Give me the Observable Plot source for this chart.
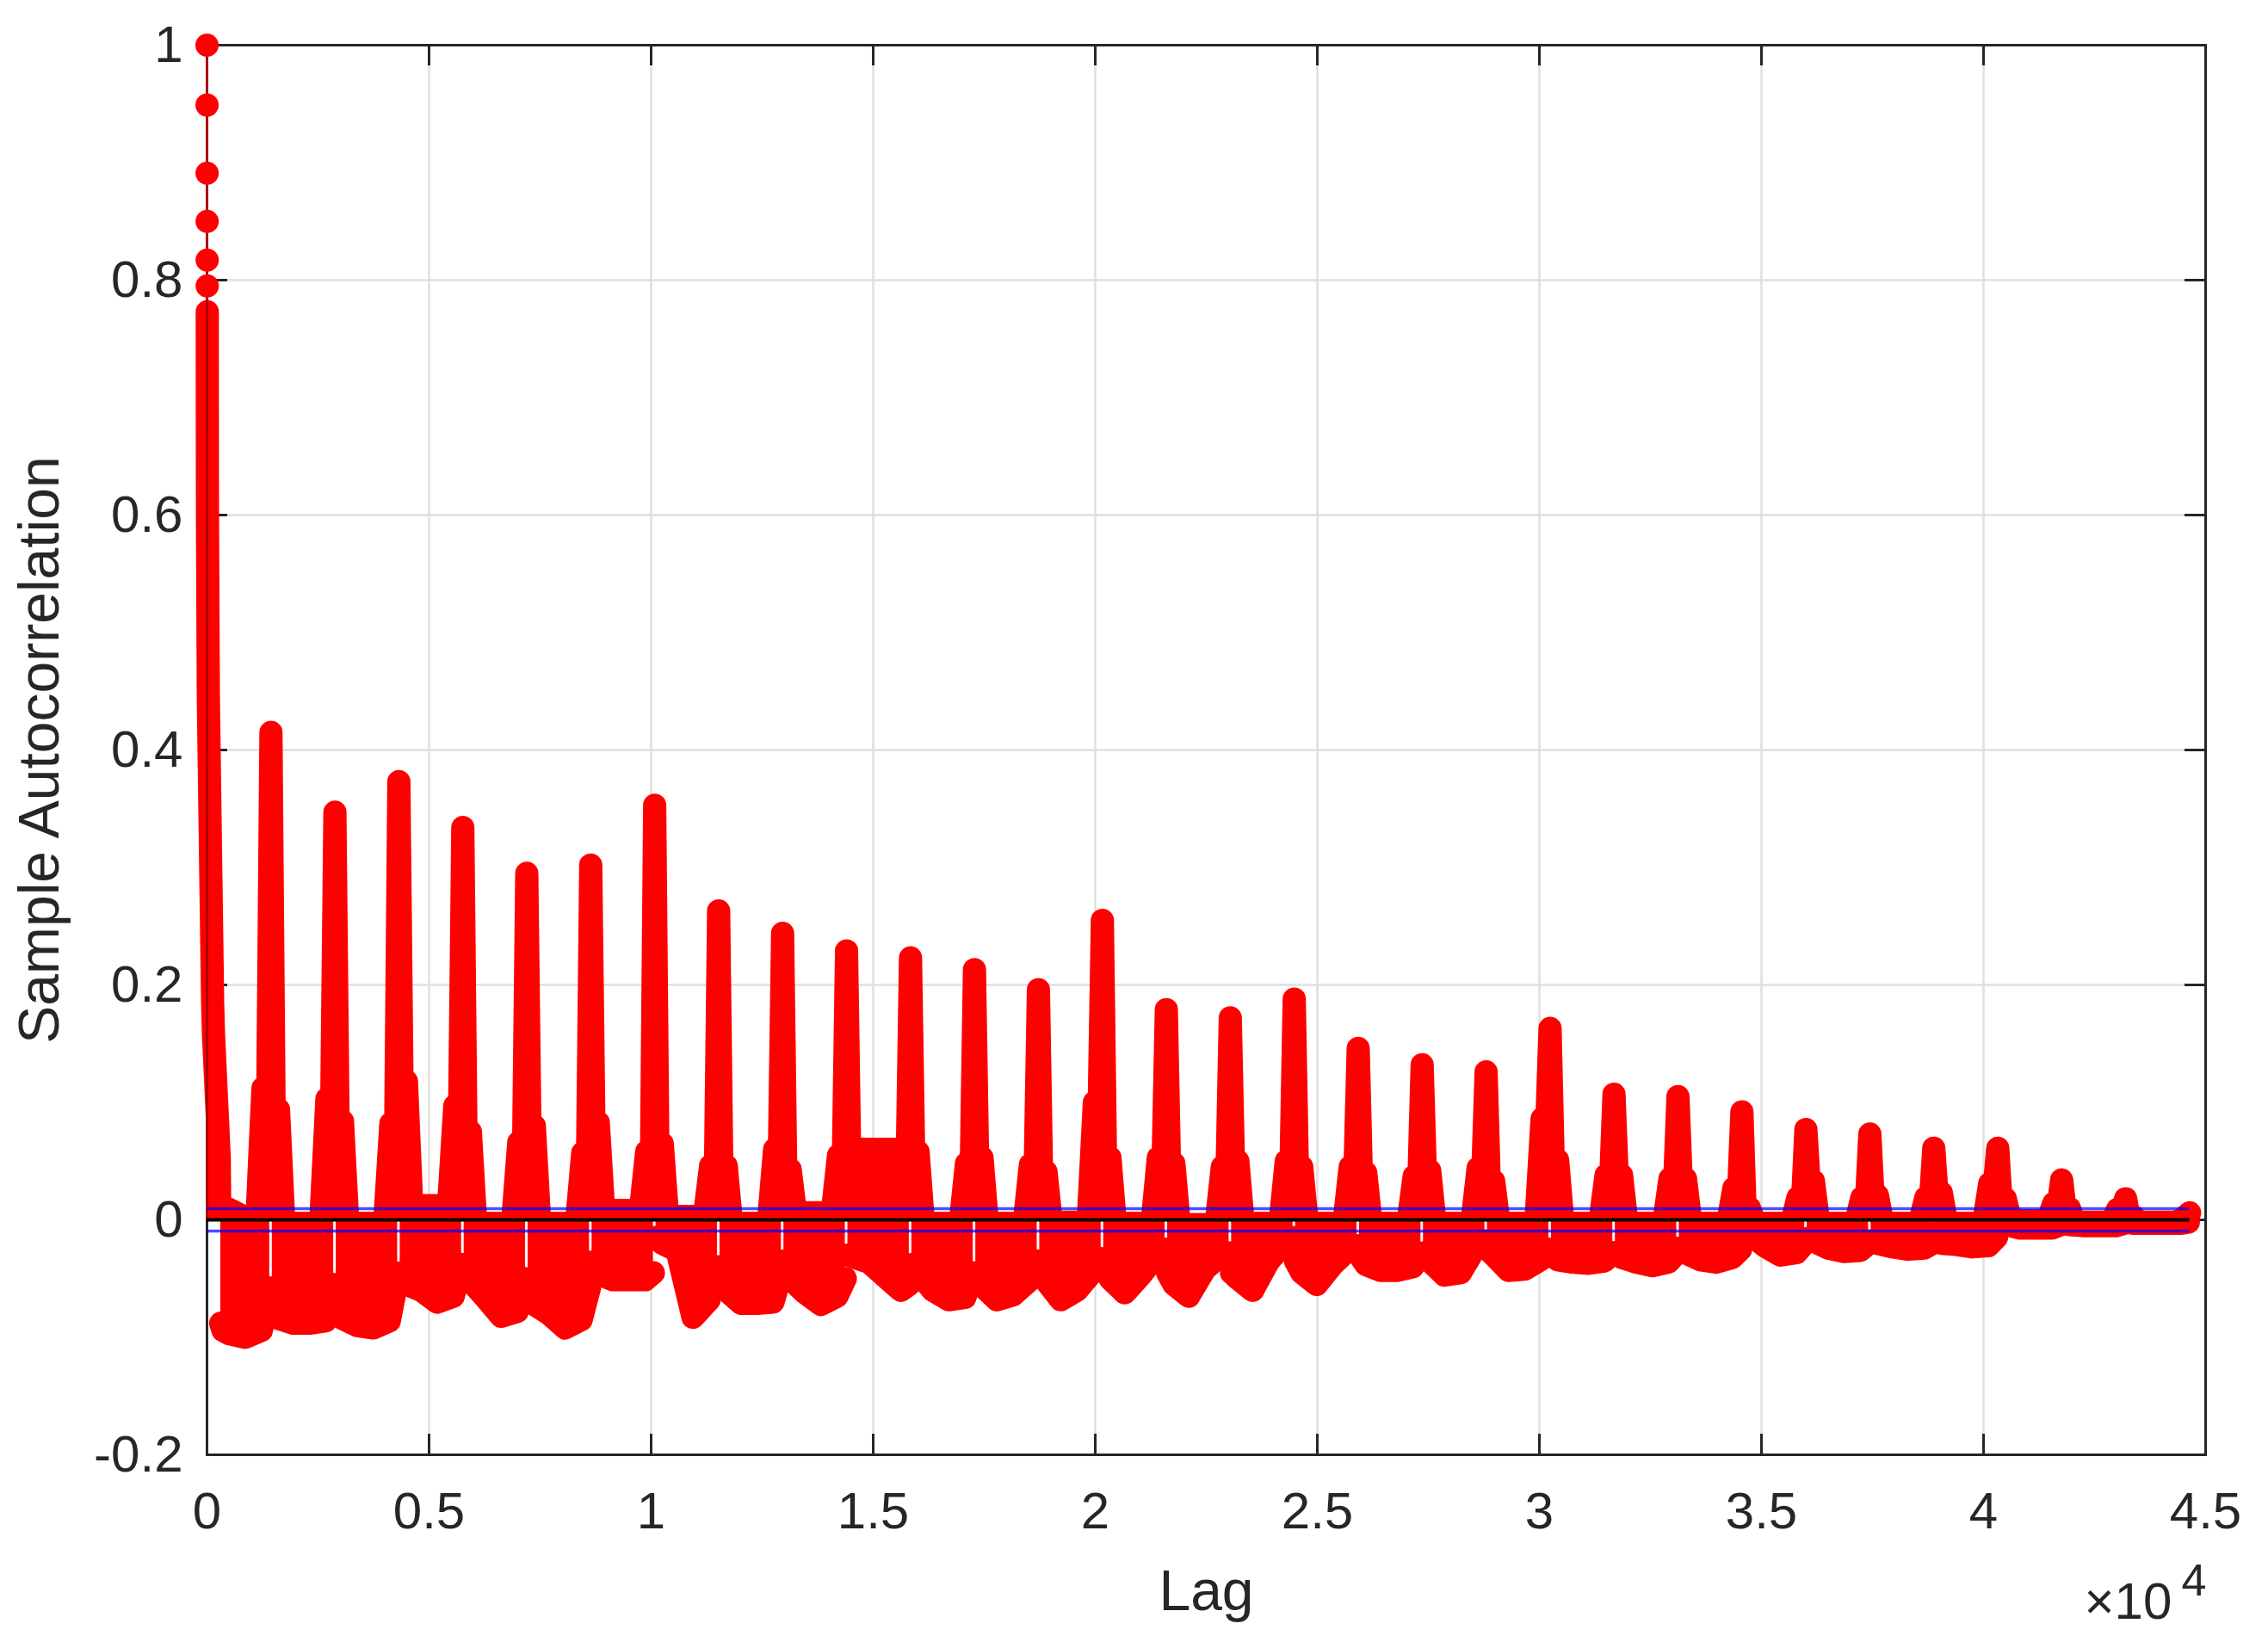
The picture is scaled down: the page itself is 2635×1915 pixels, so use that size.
<!DOCTYPE html>
<html>
<head>
<meta charset="utf-8">
<script src="https://cdn.jsdelivr.net/npm/d3@7"></script>
<script src="https://cdn.jsdelivr.net/npm/@observablehq/plot@0.6"></script>
<style>
  html, body { margin: 0; padding: 0; background: #ffffff; }
  svg { display: block; }
</style>
</head>
<body>
<div id="chart"></div>
<script>
// ---------------- data ----------------
const period = 1440;          // lag spacing of the daily peaks
const maxLag = 44640;         // last lag
const bound = 0.0095;         // confidence bounds (±)

const xTicks = [0, 5000, 10000, 15000, 20000, 25000, 30000, 35000, 40000, 45000];
const yTicks = [-0.2, 0, 0.2, 0.4, 0.6, 0.8, 1];

// first lags, drawn as individual markers
const firstVals = [1.0, 0.949, 0.891, 0.850, 0.817, 0.795];

// decay of the lag-0 peak (upper envelope)
const decayLag = [6, 10, 30, 126, 145, 275, 285];
const decayVal = [0.773, 0.60, 0.445, 0.186, 0.159, 0.053, 0.013];

// per daily peak k = 1..31 (lag k*1440)
const peakVal = [0.415, 0.347, 0.373, 0.334, 0.295, 0.302, 0.353, 0.263, 0.244, 0.229,
                 0.223, 0.213, 0.196, 0.255, 0.179, 0.172, 0.188, 0.146, 0.132, 0.126,
                 0.163, 0.107, 0.105, 0.092, 0.077, 0.073, 0.061, 0.061, 0.034, 0.018, 0.006];
const shoulderL = [0.112, 0.103, 0.082, 0.097, 0.066, 0.057, 0.058, 0.046, 0.060, 0.055,
                   0.058, 0.048, 0.047, 0.100, 0.053, 0.045, 0.050, 0.045, 0.037, 0.044,
                   0.086, 0.038, 0.035, 0.027, 0.019, 0.019, 0.019, 0.031, 0.014, 0.009, 0.000];
const shoulderR = [0.094, 0.084, 0.118, 0.075, 0.080, 0.083, 0.065, 0.046, 0.043, 0.055,
                   0.058, 0.053, 0.041, 0.053, 0.048, 0.050, 0.045, 0.040, 0.042, 0.033,
                   0.051, 0.038, 0.035, 0.010, 0.033, 0.021, 0.023, 0.018, 0.010, 0.003, 0.000];
// lag offsets of the upper-envelope points around each peak
const hiOffsets = [-320, -180, -70, 0, 70, 170, 290];

// upper envelope in the middle of each interval (k*1440 .. (k+1)*1440), k = 0..30
const gapHi = [-0.003, -0.003, -0.003, 0.012, -0.003, -0.003, 0.008, 0.003, -0.003, 0.006,
               0.060, -0.003, -0.003, -0.002, -0.003, -0.004, -0.003, -0.003, -0.003, -0.003,
               -0.003, -0.003, -0.003, -0.003, -0.003, -0.003, -0.003, -0.003, -0.001, -0.002, -0.002];

// lower envelope of each interval at fractions loFrac (interval 0 at loFrac0)
const loFrac  = [0.02, 0.12, 0.35, 0.60, 0.85, 0.98];
const loFrac0 = [0.215, 0.25, 0.35, 0.60, 0.85, 0.98];
const loA = [-0.088, -0.058, -0.058, -0.045, -0.045, -0.055, -0.036, -0.015, -0.040, -0.035,
             -0.030, -0.038, -0.048, -0.038, -0.038, -0.045, -0.045, -0.035, -0.030, -0.028,
             -0.025, -0.030, -0.028, -0.024, -0.010, -0.016, -0.018, -0.011, -0.001, -0.003, -0.002];
const loB = [-0.094, -0.084, -0.084, -0.055, -0.052, -0.072, -0.046, -0.020, -0.060, -0.050,
             -0.032, -0.045, -0.056, -0.052, -0.050, -0.055, -0.050, -0.045, -0.038, -0.035,
             -0.030, -0.034, -0.032, -0.028, -0.012, -0.018, -0.020, -0.020, -0.004, -0.004, -0.003];
const loC = [-0.097, -0.088, -0.090, -0.060, -0.066, -0.080, -0.051, -0.026, -0.071, -0.062,
             -0.036, -0.060, -0.068, -0.068, -0.062, -0.065, -0.060, -0.055, -0.043, -0.047,
             -0.043, -0.036, -0.036, -0.034, -0.022, -0.024, -0.023, -0.021, -0.007, -0.005, -0.003];
const loD = [-0.100, -0.088, -0.092, -0.070, -0.082, -0.092, -0.051, -0.083, -0.071, -0.072,
             -0.048, -0.068, -0.064, -0.060, -0.047, -0.042, -0.035, -0.038, -0.043, -0.045,
             -0.042, -0.037, -0.039, -0.036, -0.030, -0.027, -0.025, -0.023, -0.007, -0.005, -0.003];
const loE = [-0.094, -0.086, -0.086, -0.065, -0.078, -0.085, -0.051, -0.068, -0.070, -0.065,
             -0.060, -0.066, -0.052, -0.044, -0.030, -0.030, -0.020, -0.025, -0.040, -0.022,
             -0.034, -0.035, -0.036, -0.032, -0.028, -0.026, -0.024, -0.022, -0.007, -0.005, -0.003];
const loF = [-0.058, -0.055, -0.050, -0.038, -0.050, -0.058, -0.045, -0.040, -0.045, -0.050,
             -0.055, -0.045, -0.035, -0.033, -0.025, -0.028, -0.015, -0.022, -0.030, -0.018,
             -0.025, -0.028, -0.028, -0.025, -0.020, -0.020, -0.020, -0.015, -0.004, -0.003, -0.002];

// ---------------- build tables ----------------
const hi = [];
decayLag.forEach((l, i) => hi.push({lag: l, v: decayVal[i]}));
for (let k = 1; k <= peakVal.length; k++) {
  const c = k * period;
  const last = k === peakVal.length;
  const vals = [gapHi[k - 1], shoulderL[k - 1], shoulderL[k - 1], peakVal[k - 1],
                shoulderR[k - 1], shoulderR[k - 1], last ? null : gapHi[k]];
  hiOffsets.forEach((o, i) => {
    if (last && o > 0) return;
    if (last && i === 2) return;
    hi.push({lag: c + o, v: vals[i]});
  });
}

const lo = [];
for (let k = 0; k < loA.length; k++) {
  const c = k * period;
  const fr = k === 0 ? loFrac0 : loFrac;
  const vals = [loA[k], loB[k], loC[k], loD[k], loE[k], loF[k]];
  fr.forEach((f, i) => lo.push({seg: k, lag: c + f * period, v: vals[i]}));
}

const firstPts = firstVals.map((v, i) => ({lag: i, v}));

// ---------------- chart ----------------
const W = 2635, H = 1915;
const mL = 240, mR = 73, mT = 52, mB = 225;
const xDom = [0, 45000], yDom = [-0.2, 1];
const tickLen = 24;
const tx = tickLen * (xDom[1] - xDom[0]) / (W - mL - mR);
const ty = tickLen * (yDom[1] - yDom[0]) / (H - mT - mB);
const ink = "#262626";
const red = "#ff0000";

const chart = Plot.plot({
  width: W, height: H,
  marginLeft: mL, marginRight: mR, marginTop: mT, marginBottom: mB,
  x: {domain: xDom, axis: null},
  y: {domain: yDom, axis: null},
  style: {fontFamily: "'Liberation Sans', Arial, Helvetica, sans-serif", color: ink, background: "#ffffff", fontSize: "60px"},
  marks: [
    // grid
    Plot.ruleX(xTicks, {stroke: "#dfdfdf", strokeWidth: 2.5}),
    Plot.ruleY(yTicks, {stroke: "#dfdfdf", strokeWidth: 2.5}),
    // box and inward ticks
    Plot.frame({stroke: ink, strokeWidth: 3}),
    Plot.ruleX(xTicks, {y1: yDom[0], y2: yDom[0] + ty, stroke: ink, strokeWidth: 3}),
    Plot.ruleX(xTicks, {y1: yDom[1] - ty, y2: yDom[1], stroke: ink, strokeWidth: 3}),
    Plot.ruleY(yTicks, {x1: xDom[0], x2: xDom[0] + tx, stroke: ink, strokeWidth: 3}),
    Plot.ruleY(yTicks, {x1: xDom[1] - tx, x2: xDom[1], stroke: ink, strokeWidth: 3}),
    // stems (negative side) + markers along lower envelope
    Plot.areaY(lo, {x: "lag", y1: 0, y2: "v", z: "seg", fill: red, curve: "linear"}),
    Plot.line(lo, {x: "lag", y: "v", z: "seg", stroke: red, strokeWidth: 27,
                   strokeLinecap: "round", strokeLinejoin: "round"}),
    // stems (positive side) + markers along upper envelope
    Plot.areaY(hi, {x: "lag", y1: 0, y2: d => Math.max(0, d.v), fill: red, curve: "linear"}),
    Plot.line(hi, {x: "lag", y: "v", stroke: red, strokeWidth: 27,
                   strokeLinecap: "round", strokeLinejoin: "round"}),
    // first lags
    Plot.ruleX([0], {y1: 0, y2: firstVals[0], stroke: "#b00000", strokeWidth: 3}),
    Plot.dot(firstPts, {x: "lag", y: "v", r: 13.5, fill: red, stroke: "none"}),
    // zero line and bounds
    Plot.ruleY([0], {x1: 0, x2: maxLag, stroke: "#000000", strokeWidth: 4}),
    Plot.ruleY([bound, -bound], {x1: 0, x2: maxLag, stroke: "#0000ff", strokeOpacity: 0.7, strokeWidth: 3.5}),
    // tick labels
    Plot.axisX(xTicks, {anchor: "bottom", tickSize: 0, tickPadding: 43, fontSize: 60, label: null,
                        tickFormat: d => String(d / 10000)}),
    Plot.axisY(yTicks, {anchor: "left", tickSize: 0, tickPadding: 28, fontSize: 60, label: null,
                        tickFormat: d => String(Math.round(d * 10) / 10)}),
    // axis labels
    Plot.text(["Lag"], {text: d => d, frameAnchor: "bottom", dy: 180, lineAnchor: "bottom",
                        fontSize: 66, fill: ink}),
    Plot.text(["Sample Autocorrelation"], {text: d => d, frameAnchor: "left", rotate: -90, dx: -173,
                        lineAnchor: "bottom", textAnchor: "middle", fontSize: 66, fill: ink}),
    Plot.text(["\u00d710"], {text: d => d, frameAnchor: "bottom-right", dx: -141, dy: 190,
                        textAnchor: "start", lineAnchor: "bottom", fontSize: 60, fill: ink}),
    Plot.text(["4"], {text: d => d, frameAnchor: "bottom-right", dx: -28, dy: 163,
                        textAnchor: "start", lineAnchor: "bottom", fontSize: 52, fill: ink})
  ]
});
document.getElementById("chart").appendChild(chart);
</script>
</body>
</html>
